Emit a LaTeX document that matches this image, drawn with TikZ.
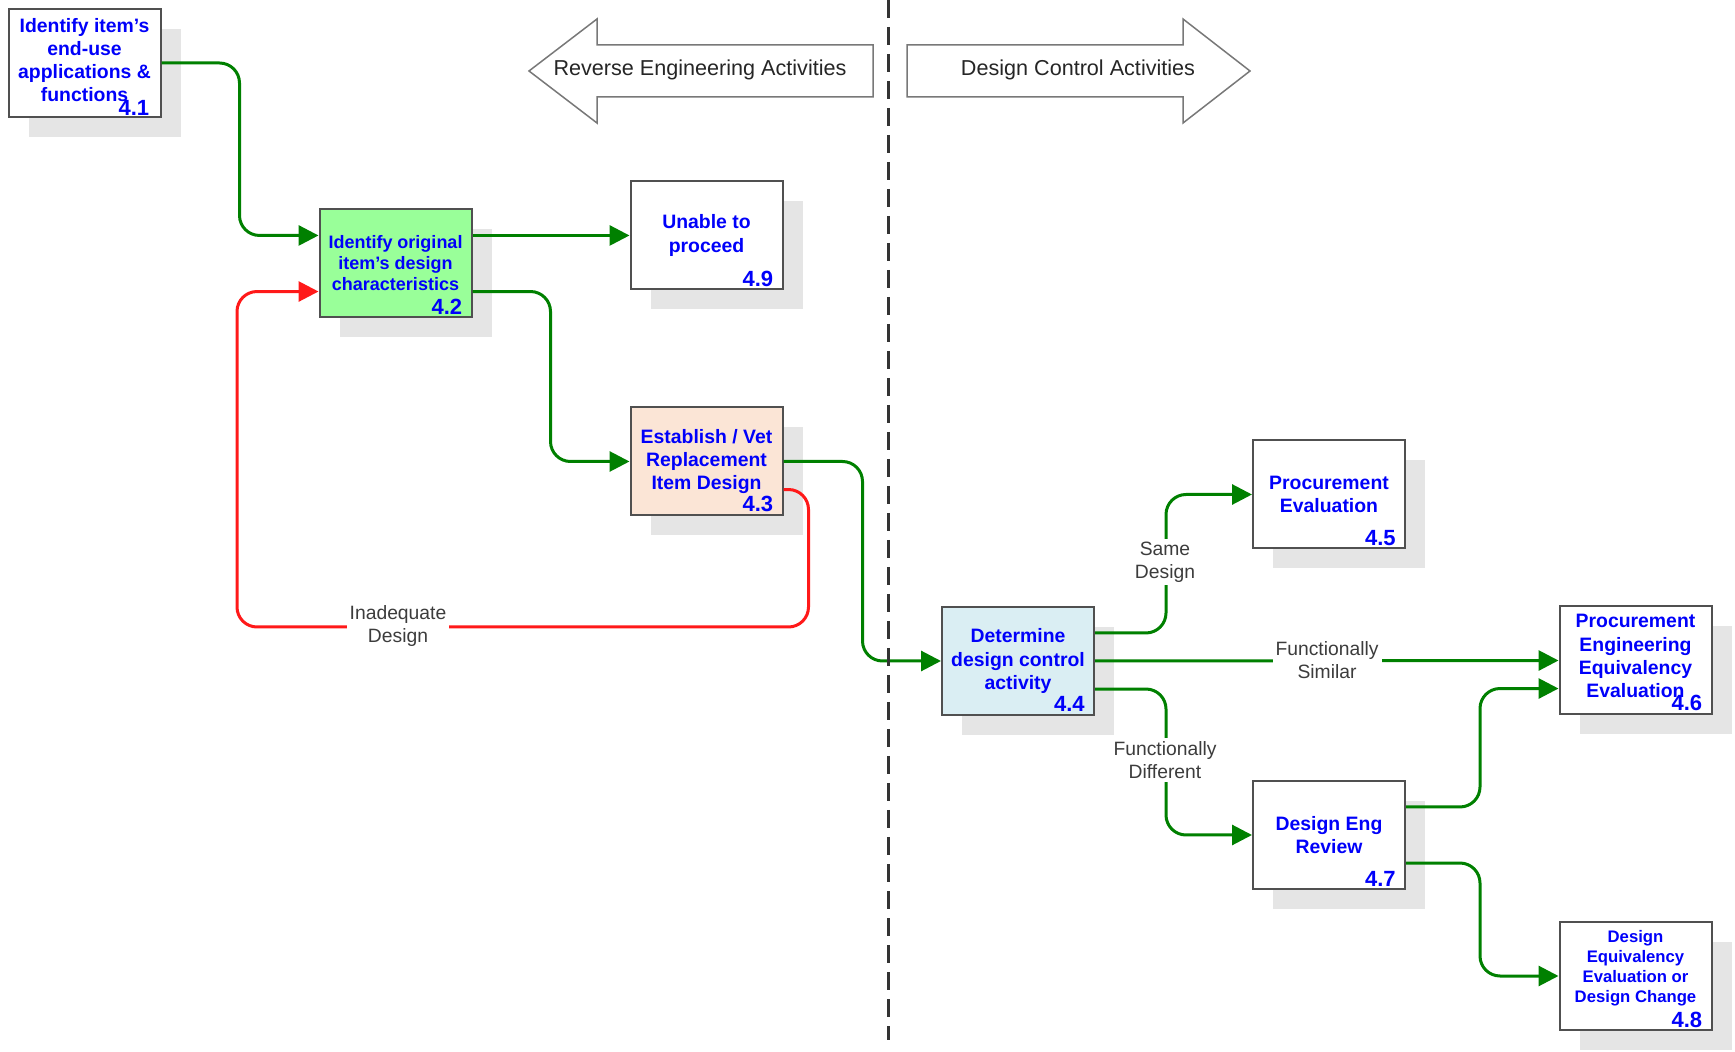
\documentclass[tikz,border=0pt]{standalone}
\usepackage{fontspec}
\setmainfont{Liberation Sans}
\usetikzlibrary{arrows.meta, calc, shadows}
\definecolor{FlowGreen}{RGB}{0, 128, 0}
\definecolor{LoopRed}{RGB}{255, 25, 25}
\definecolor{TitleBlue}{RGB}{0, 0, 250}
\definecolor{BoxGray}{RGB}{80, 80, 80}
\definecolor{ShadowGray}{RGB}{229, 229, 229}
\definecolor{CharFill}{RGB}{153, 255, 153}
\definecolor{VetFill}{RGB}{251, 229, 214}
\definecolor{ControlFill}{RGB}{218, 238, 243}
\definecolor{BannerGray}{RGB}{120, 120, 120}
\definecolor{LabelGray}{RGB}{60, 60, 60}

\begin{document}
\begin{tikzpicture}[x=0.5pt, y=-0.5pt,
    stepbox/.style={draw=BoxGray, line width=1pt, fill=white, minimum width=76pt, minimum height=54pt,
        inner sep=1pt, align=center, text=TitleBlue, font=\bfseries\fontsize{9.7}{11.6}\selectfont,
        drop shadow={shadow xshift=10pt, shadow yshift=-10pt, fill=ShadowGray, opacity=1}},
    stepnum/.style={text=TitleBlue, font=\bfseries\fontsize{11}{13}\selectfont, inner sep=0pt, anchor=south east},
    flow/.style={FlowGreen, line width=1.5pt, rounded corners=10pt, -{Triangle[length=10pt, width=10pt]}},
    loopback/.style={flow, LoopRed},
    lbl/.style={fill=white, text=LabelGray, align=center, inner sep=1.5pt, font=\fontsize{9.65}{11.5}\selectfont},
    banner/.style={draw=BannerGray, line width=0.75pt, fill=white},
    bannertext/.style={text=black!85, font=\fontsize{10.8}{13}\selectfont}]
    \useasboundingbox (0,0) rectangle (1735,1052);

    % activity banners
    \draw[banner] (529,71) -- (597,19) -- (597,45) -- (873,45) -- (873,97) -- (597,97) -- (597,123) -- cycle;
    \node[bannertext] (revtitle) at (700,70) {Reverse Engineering Activities};
    \draw[banner] (1250,71) -- (1183,19) -- (1183,45) -- (907,45) -- (907,97) -- (1183,97) -- (1183,123) -- cycle;
    \node[bannertext] (ctltitle) at (1078,70) {Design Control Activities};

    % process steps
    \node[stepbox] (n41) at (84.5,63) {Identify item's\\end-use\\applications \&\\functions\\[-8.4pt]\mbox{}};
    \node[stepbox, fill=CharFill, font=\bfseries\fontsize{9}{10.5}\selectfont] (n42) at (395.5,263.5) {Identify original\\item's design\\characteristics};
    \node[stepbox] (n49) at (706.5,235.5) {Unable to\\proceed};
    \node[stepbox, fill=VetFill] (n43) at (706.5,461.5) {Establish / Vet\\Replacement\\Item Design};
    \node[stepbox, fill=ControlFill] (n44) at (1018,661) {Determine\\design control\\activity};
    \node[stepbox] (n45) at (1329,494.5) {Procurement\\Evaluation};
    \node[stepbox] (n46) at (1635.5,660.5) {Procurement\\Engineering\\Equivalency\\Evaluation\\[-7.2pt]\mbox{}};
    \node[stepbox] (n47) at (1329,835) {Design Eng\\Review};
    \node[stepbox, font=\bfseries\fontsize{8.35}{10}\selectfont] (n48) at (1635.5,976) {Design\\Equivalency\\Evaluation or\\Design Change\\[0pt]\mbox{}};

    % step numbers
    \node[stepnum] (n41num) at ([xshift=-6pt, yshift=1.2pt]n41.south east) {4.1};
    \node[stepnum] (n42num) at ([xshift=-5pt, yshift=2pt]n42.south east) {4.2};
    \node[stepnum] (n49num) at ([xshift=-5pt, yshift=1.5pt]n49.south east) {4.9};
    \node[stepnum] (n43num) at ([xshift=-5pt, yshift=2pt]n43.south east) {4.3};
    \node[stepnum] (n44num) at ([xshift=-5pt, yshift=2pt]n44.south east) {4.4};
    \node[stepnum] (n45num) at ([xshift=-5pt, yshift=1.5pt]n45.south east) {4.5};
    \node[stepnum] (n46num) at ([xshift=-5pt, yshift=2pt]n46.south east) {4.6};
    \node[stepnum] (n47num) at ([xshift=-5pt, yshift=1.5pt]n47.south east) {4.7};
    \node[stepnum] (n48num) at ([xshift=-5pt, yshift=1.5pt]n48.south east) {4.8};

    % connectors
    \draw[flow] (n41.east) -- ++(78,0) |- (n42.160);
    \draw[flow] (n42.20) -- (n42.20 -| n49.west);
    \draw[flow] (n42.-20) -- ++(78,0) |- (n43.west);
    \coordinate (redturn) at (237,627);
    \draw[loopback] (n43.-20) -- ++(25,0) |- (redturn) |- (n42.-160);
    \draw[flow] (n43.east) -- ++(79,0) |- (n44.west);
    \draw[flow] (n44.20) -- ++(71,0) |- (n45.west);
    \draw[flow] (n44.east) -- (n46.west);
    \draw[flow] (n44.-20) -- ++(71,0) |- (n47.west);
    \draw[flow] (n47.20) -- ++(74,0) |- (n46.-160);
    \draw[flow] (n47.-20) -- ++(74,0) |- (n48.west);

    % connector labels
    \node[lbl] (inadequate) at (398,626) {Inadequate\\Design};
    \node[lbl] (same) at (1165,562) {Same\\Design};
    \node[lbl] (similar) at (1327,660) {Functionally\\Similar};
    \node[lbl] (different) at (1165,760) {Functionally\\Different};

    % divider between the two activity sides
    \draw[black!80, line width=1.5pt, dash pattern=on 9pt off 4.5pt] (888,0) -- (888,1040);
\end{tikzpicture}
\end{document}
